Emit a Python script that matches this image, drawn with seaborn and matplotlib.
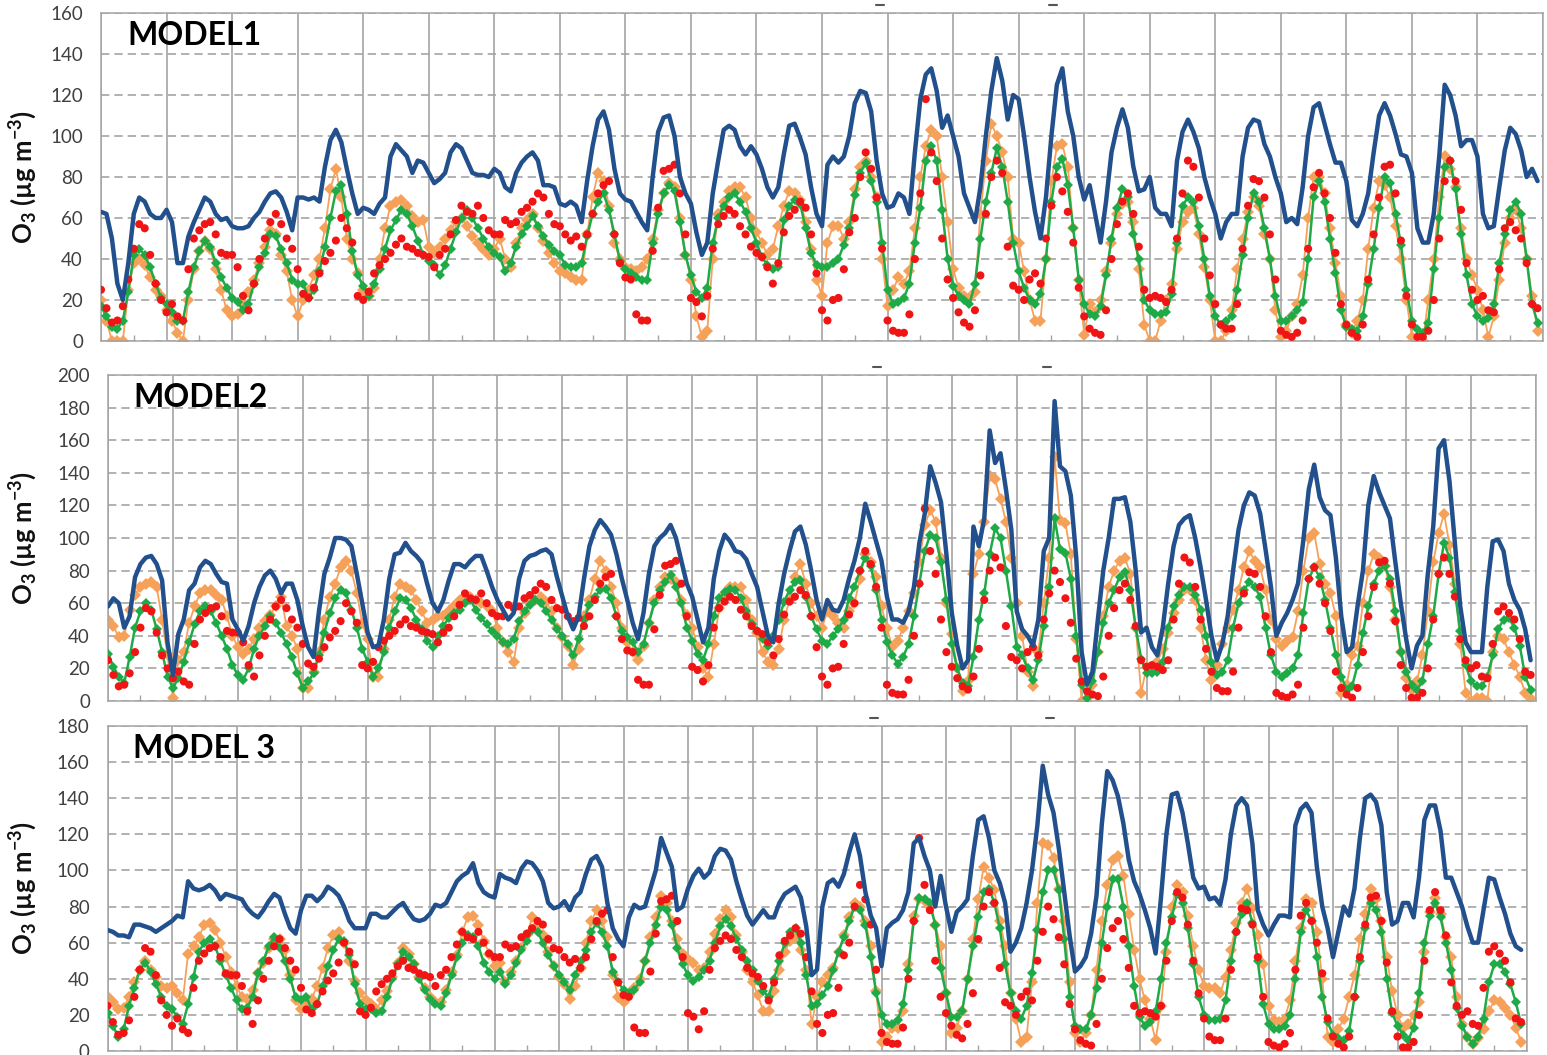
import numpy as np
import matplotlib
matplotlib.use('Agg')
import matplotlib.pyplot as plt
import seaborn as sns
from matplotlib.lines import Line2D

# O3 (ug m-3), values every 2 hours over 22 days (12 values per day)
obs_o3 = [
    25, 16, 9, 10, 17, 30, 45, 57, 55, 42, 28, 20,   14, 18, 12, 10, 35, 50, 54, 57, 58, 52, 43, 42,
    42, 36, 22, 15, 28, 40, 50, 58, 62, 57, 50, 45,   35, 23, 21, 26, 33, 39, 43, 49, 60, 55, 48, 22,
    20, 24, 33, 37, 40, 43, 47, 50, 46, 45, 43, 42,   41, 36, 42, 45, 52, 59, 66, 63, 62, 66, 60, 54,
    52, 52, 59, 57, 58, 63, 65, 68, 72, 70, 62, 57,   56, 52, 49, 51, 46, 52, 62, 72, 76, 78, 52, 38,
    31, 30, 13, 10, 10, 44, 65, 83, 84, 86, 72, 52,   21, 19, 12, 22, 45, 57, 61, 64, 62, 56, 52, 46,
    43, 41, 36, 28, 38, 53, 61, 64, 68, 65, 52, 33,   15, 10, 20, 21, 35, 53, 60, 80, 92, 84, 70, 45,
    10, 5, 4, 4, 13, 40, 72, 118, 92, 78, 50, 30,     21, 14, 9, 7, 15, 32, 62, 80, 88, 82, 46, 27,
    25, 20, 30, 33, 28, 50, 66, 80, 73, 63, 48, 26,   12, 6, 4, 3, 15, 40, 57, 68, 72, 62, 46, 25,
    21, 22, 21, 19, 25, 50, 72, 88, 85, 70, 50, 32,   18, 8, 6, 6, 18, 45, 66, 79, 78, 70, 52, 30,
    5, 3, 2, 4, 10, 45, 75, 82, 72, 60, 43, 18,       8, 4, 2, 8, 30, 52, 70, 85, 86, 72, 49, 22,
    8, 2, 2, 5, 20, 50, 78, 88, 78, 64, 38, 25,       20, 22, 15, 14, 35, 55, 58, 54, 50, 38, 18, 16,
]

m1_blue = [
    63, 62, 50, 28, 20, 38, 62, 70, 68, 62, 60, 60,   64, 58, 38, 38, 51, 58, 64, 70, 68, 62, 59, 60,
    56, 55, 55, 56, 60, 63, 68, 72, 73, 70, 63, 54,   70, 70, 69, 70, 68, 85, 98, 103, 97, 84, 72, 62,
    65, 64, 62, 67, 70, 90, 96, 93, 90, 82, 88, 87,   82, 77, 79, 82, 92, 96, 94, 88, 82, 81, 81, 80,
    84, 82, 75, 73, 82, 87, 90, 92, 88, 76, 76, 75,   67, 66, 68, 66, 58, 78, 95, 108, 112, 103, 84, 72,
    69, 68, 63, 58, 54, 80, 102, 109, 110, 100, 80, 72,   67, 53, 42, 48, 72, 88, 103, 105, 103, 95, 91, 95,
    91, 84, 75, 70, 75, 91, 105, 106, 99, 91, 75, 62,   56, 86, 90, 87, 90, 100, 116, 122, 121, 112, 88, 72,
    65, 66, 72, 70, 62, 92, 118, 130, 133, 122, 104, 110,   100, 90, 72, 65, 58, 75, 100, 122, 138, 127, 108, 120,
    118, 100, 80, 63, 50, 70, 100, 125, 133, 112, 100, 80,   69, 76, 62, 48, 68, 92, 104, 113, 104, 85, 73, 74,
    80, 65, 62, 62, 56, 88, 102, 108, 102, 94, 80, 70,   62, 50, 58, 62, 62, 90, 104, 108, 107, 96, 90, 80,
    72, 58, 60, 57, 75, 100, 114, 116, 106, 96, 87, 87,   78, 59, 56, 62, 72, 92, 110, 116, 110, 101, 91, 90,
    82, 55, 48, 48, 62, 90, 125, 120, 110, 95, 98, 98,   90, 62, 55, 56, 75, 93, 104, 101, 93, 80, 84, 78,
]
m1_orange = [
    20, 10, 0, 0, 0, 25, 38, 40, 37, 31, 25, 22,   15, 10, 4, 0, 20, 35, 44, 49, 45, 35, 25, 15,
    12, 13, 18, 24, 30, 38, 46, 54, 52, 42, 34, 20,   12, 20, 25, 32, 40, 55, 74, 84, 70, 50, 40, 33,
    25, 22, 26, 40, 55, 66, 68, 69, 66, 61, 58, 59,   46, 43, 46, 50, 54, 58, 60, 56, 51, 48, 45, 42,
    45, 50, 40, 36, 48, 55, 59, 62, 55, 49, 43, 38,   34, 33, 31, 30, 30, 52, 70, 82, 78, 66, 48, 40,
    36, 35, 34, 36, 40, 50, 64, 72, 77, 75, 60, 42,   30, 12, 2, 5, 40, 62, 68, 73, 75, 75, 70, 60,
    53, 48, 42, 45, 56, 66, 73, 72, 69, 58, 45, 30,   22, 48, 56, 56, 50, 58, 74, 85, 88, 80, 70, 40,
    17, 25, 31, 28, 34, 55, 80, 95, 103, 100, 80, 58,   35, 26, 22, 21, 24, 62, 88, 106, 100, 92, 80, 50,
    48, 34, 20, 10, 10, 40, 78, 95, 96, 85, 55, 30,   3, 18, 14, 20, 34, 48, 62, 67, 68, 58, 35, 8,
    0, 0, 10, 20, 28, 45, 58, 63, 65, 52, 36, 20,   0, 0, 5, 15, 35, 50, 63, 70, 66, 52, 40, 15,
    2, 5, 12, 18, 32, 60, 80, 80, 72, 55, 38, 22,   8, 4, 10, 20, 45, 65, 78, 76, 70, 56, 40, 20,
    2, 0, 0, 20, 40, 70, 90, 84, 75, 55, 40, 32,   25, 15, 2, 12, 30, 48, 60, 64, 55, 40, 22, 5,
]
m1_green = [
    17, 12, 7, 6, 10, 24, 42, 45, 42, 36, 28, 21,   18, 14, 10, 10, 24, 36, 44, 49, 46, 38, 31, 26,
    21, 19, 15, 18, 28, 36, 43, 52, 51, 45, 38, 30,   28, 28, 21, 25, 34, 46, 60, 73, 76, 62, 44, 32,
    27, 22, 28, 35, 45, 54, 59, 64, 62, 56, 49, 42,   39, 37, 32, 37, 45, 53, 60, 64, 60, 55, 50, 46,
    43, 41, 34, 38, 46, 52, 56, 61, 56, 51, 47, 44,   42, 37, 36, 36, 38, 51, 62, 68, 72, 64, 52, 39,
    35, 33, 31, 30, 30, 48, 62, 72, 76, 73, 58, 42,   32, 24, 21, 26, 48, 60, 66, 70, 72, 68, 63, 55,
    48, 41, 37, 35, 36, 59, 66, 69, 67, 55, 43, 37,   36, 36, 38, 40, 47, 55, 71, 82, 87, 78, 68, 48,
    25, 18, 19, 21, 28, 48, 65, 88, 95, 88, 64, 40,   27, 22, 20, 18, 28, 50, 68, 82, 94, 85, 68, 48,
    34, 26, 20, 18, 23, 40, 68, 85, 89, 76, 55, 30,   18, 13, 12, 17, 32, 50, 65, 74, 70, 52, 40, 20,
    15, 13, 13, 14, 23, 48, 66, 70, 68, 56, 40, 22,   12, 8, 10, 12, 25, 42, 60, 72, 68, 55, 40, 22,
    10, 10, 12, 15, 19, 40, 70, 78, 68, 50, 33, 15,   7, 6, 5, 12, 28, 45, 65, 80, 77, 62, 47, 25,
    10, 6, 4, 9, 35, 60, 85, 88, 74, 52, 32, 18,   12, 10, 11, 18, 38, 52, 64, 68, 62, 40, 18, 9,
]

m2_blue = [
    58, 63, 60, 45, 52, 76, 84, 88, 89, 84, 74, 36,   16, 41, 50, 68, 72, 82, 86, 84, 78, 73, 72, 50,
    44, 37, 46, 60, 70, 77, 80, 75, 66, 72, 72, 62,   46, 33, 27, 55, 78, 88, 100, 100, 99, 95, 78, 60,
    42, 33, 34, 50, 75, 90, 91, 97, 92, 89, 85, 72,   60, 55, 62, 74, 84, 84, 82, 86, 89, 89, 80, 70,
    62, 56, 50, 54, 75, 86, 89, 90, 92, 93, 90, 76,   64, 52, 44, 52, 75, 95, 105, 111, 107, 102, 90, 75,
    62, 48, 38, 54, 78, 95, 100, 103, 108, 100, 86, 72,   64, 50, 36, 45, 75, 92, 102, 98, 92, 91, 87, 78,
    70, 55, 40, 36, 60, 78, 92, 104, 107, 96, 80, 62,   50, 62, 56, 55, 62, 75, 86, 100, 121, 110, 98, 86,
    64, 50, 50, 48, 55, 70, 97, 115, 144, 134, 122, 90,   54, 34, 20, 25, 107, 95, 112, 166, 146, 152, 130, 105,
    55, 44, 40, 34, 50, 92, 100, 184, 144, 141, 126, 88,   30, 10, 18, 50, 80, 100, 124, 124, 125, 110, 80, 42,
    45, 33, 28, 45, 72, 95, 108, 112, 114, 100, 82, 62,   40, 25, 35, 52, 80, 105, 120, 128, 126, 115, 93, 70,
    40, 48, 54, 62, 72, 99, 130, 145, 125, 117, 114, 88,   52, 30, 33, 58, 80, 120, 138, 128, 120, 112, 85, 60,
    38, 20, 34, 40, 78, 107, 155, 160, 135, 97, 58, 36,   30, 30, 30, 70, 98, 99, 92, 72, 62, 56, 44, 25,
]
m2_orange = [
    50, 46, 39, 40, 56, 65, 70, 72, 73, 70, 50, 28,   2, 25, 30, 48, 58, 66, 68, 68, 65, 62, 52, 40,
    33, 29, 32, 38, 45, 49, 53, 58, 64, 46, 40, 32,   8, 8, 18, 30, 50, 64, 72, 82, 86, 80, 66, 48,
    38, 15, 15, 32, 50, 64, 72, 70, 68, 62, 55, 48,   50, 52, 52, 55, 58, 62, 63, 64, 62, 60, 58, 55,
    45, 36, 30, 24, 45, 54, 61, 62, 64, 61, 55, 45,   39, 34, 22, 32, 52, 62, 75, 86, 80, 70, 60, 45,
    36, 30, 25, 34, 48, 62, 70, 76, 75, 73, 62, 53,   45, 33, 20, 15, 35, 57, 66, 70, 70, 70, 62, 50,
    42, 30, 24, 22, 32, 50, 62, 76, 84, 72, 60, 52,   45, 55, 52, 48, 45, 55, 60, 75, 90, 85, 76, 58,
    45, 33, 37, 45, 55, 66, 85, 108, 117, 110, 88, 60,   41, 20, 6, 12, 78, 90, 110, 138, 136, 124, 110, 88,
    60, 40, 18, 9, 30, 60, 88, 150, 111, 109, 90, 38,   0, 0, 10, 30, 52, 70, 80, 86, 88, 78, 45, 5,
    21, 19, 24, 32, 42, 54, 62, 68, 68, 62, 45, 25,   13, 22, 35, 45, 56, 68, 82, 92, 86, 82, 68, 50,
    38, 34, 37, 39, 55, 80, 100, 103, 84, 72, 66, 52,   5, 10, 28, 34, 60, 80, 90, 88, 83, 70, 50, 30,
    14, 7, 12, 28, 55, 85, 103, 115, 96, 72, 35, 5,   0, 2, 2, 0, 30, 40, 38, 30, 22, 15, 5, 1,
]
m2_green = [
    29, 21, 15, 11, 27, 45, 55, 60, 56, 44, 30, 15,   8, 14, 24, 36, 47, 55, 58, 55, 48, 40, 32, 22,
    16, 13, 20, 32, 40, 46, 52, 48, 42, 35, 27, 17,   8, 12, 17, 28, 42, 54, 63, 68, 66, 56, 45, 32,
    24, 15, 20, 30, 45, 55, 63, 62, 57, 50, 44, 37,   33, 40, 46, 51, 54, 56, 60, 62, 56, 51, 47, 43,
    40, 36, 35, 38, 49, 55, 59, 62, 60, 55, 50, 44,   40, 35, 28, 38, 50, 59, 64, 68, 69, 63, 52, 43,
    39, 36, 30, 35, 48, 60, 68, 73, 77, 70, 60, 45,   37, 29, 25, 35, 52, 63, 67, 69, 68, 63, 55, 47,
    43, 38, 34, 40, 50, 61, 68, 73, 74, 64, 52, 44,   37, 35, 40, 44, 50, 63, 70, 80, 88, 83, 68, 50,
    36, 28, 23, 27, 35, 52, 72, 92, 102, 100, 85, 62,   35, 20, 11, 9, 27, 50, 66, 90, 106, 100, 80, 58,
    33, 28, 20, 13, 25, 46, 70, 112, 93, 91, 75, 40,   10, 2, 12, 30, 48, 60, 68, 76, 79, 68, 45, 26,
    17, 17, 18, 24, 45, 58, 65, 70, 70, 65, 56, 40,   24, 16, 18, 25, 45, 60, 68, 73, 70, 64, 45, 28,
    18, 15, 17, 20, 28, 54, 75, 82, 76, 62, 45, 28,   15, 7, 9, 22, 42, 58, 72, 80, 83, 75, 55, 30,
    18, 10, 7, 12, 35, 52, 78, 97, 88, 67, 43, 22,   12, 9, 9, 15, 28, 44, 50, 51, 45, 34, 15, 7,
]

m3_blue = [
    67, 66, 64, 64, 63, 70, 70, 69, 68, 66, 68, 70,   72, 75, 74, 94, 90, 89, 90, 92, 89, 84, 87, 86,
    85, 84, 79, 76, 74, 78, 83, 87, 85, 76, 68, 65,   78, 86, 86, 83, 86, 91, 89, 86, 80, 72, 68, 68,
    68, 76, 76, 74, 74, 77, 80, 82, 77, 73, 72, 73,   76, 81, 80, 82, 88, 94, 97, 99, 104, 93, 88, 86,
    85, 98, 96, 95, 93, 101, 105, 104, 100, 94, 82, 79,   80, 83, 78, 85, 88, 98, 106, 108, 102, 82, 68, 62,
    58, 74, 81, 79, 80, 90, 100, 118, 110, 102, 78, 80,   90, 97, 101, 96, 99, 108, 112, 111, 106, 94, 84, 75,
    70, 74, 78, 74, 74, 82, 87, 89, 91, 85, 69, 42,   45, 80, 93, 95, 91, 98, 110, 120, 108, 88, 75, 68,
    47, 68, 71, 73, 78, 88, 115, 118, 108, 100, 80, 97,   80, 66, 77, 80, 84, 108, 128, 130, 118, 100, 93, 82,
    55, 60, 68, 82, 100, 125, 158, 142, 132, 112, 88, 64,   44, 47, 52, 65, 86, 126, 155, 150, 141, 126, 106, 94,
    87, 78, 68, 54, 85, 120, 142, 143, 132, 115, 96, 90,   91, 84, 85, 81, 95, 120, 136, 140, 136, 115, 78, 70,
    64, 70, 75, 75, 74, 125, 134, 137, 132, 102, 80, 68,   52, 66, 80, 75, 90, 118, 140, 142, 138, 125, 88, 70,
    72, 82, 82, 74, 96, 128, 136, 136, 122, 96, 96, 88,   80, 69, 60, 60, 78, 96, 95, 85, 76, 65, 58, 56,
]
m3_orange = [
    30, 27, 23, 24, 30, 38, 45, 50, 45, 41, 36, 35,   36, 32, 28, 54, 58, 63, 70, 71, 67, 60, 52, 44,
    36, 30, 29, 34, 43, 49, 57, 62, 62, 56, 42, 28,   23, 27, 29, 36, 46, 57, 64, 66, 60, 50, 39, 32,
    28, 26, 23, 28, 33, 41, 49, 57, 54, 48, 41, 35,   30, 27, 27, 34, 44, 53, 66, 74, 75, 70, 61, 54,
    47, 49, 38, 44, 50, 57, 64, 74, 70, 64, 55, 47,   41, 37, 29, 36, 46, 60, 72, 78, 72, 63, 42, 30,
    27, 31, 35, 40, 50, 63, 74, 86, 82, 72, 62, 54,   51, 49, 45, 46, 55, 65, 73, 78, 74, 64, 55, 45,
    38, 31, 22, 22, 33, 45, 55, 61, 63, 56, 45, 15,   30, 38, 42, 46, 55, 64, 74, 82, 80, 72, 58, 33,
    5, 8, 13, 13, 22, 48, 75, 84, 83, 80, 70, 58,   32, 10, 13, 22, 40, 62, 84, 102, 96, 89, 72, 58,
    32, 18, 5, 8, 38, 82, 115, 114, 107, 90, 72, 38,   10, 5, 10, 20, 45, 72, 92, 106, 108, 97, 76, 56,
    40, 28, 18, 6, 25, 55, 80, 92, 88, 75, 58, 45,   36, 35, 35, 32, 41, 56, 71, 82, 90, 79, 64, 48,
    25, 17, 16, 18, 28, 50, 68, 84, 82, 66, 40, 8,   5, 12, 18, 30, 42, 62, 76, 90, 84, 72, 52, 33,
    20, 13, 15, 20, 27, 55, 77, 85, 76, 63, 52, 30,   15, 8, 4, 7, 12, 22, 28, 27, 24, 20, 13, 5,
]
m3_green = [
    21, 14, 8, 12, 25, 35, 45, 49, 44, 37, 30, 25,   23, 19, 15, 26, 41, 55, 60, 62, 58, 50, 42, 35,
    28, 23, 24, 30, 43, 50, 58, 63, 57, 50, 40, 30,   28, 30, 23, 26, 36, 47, 56, 62, 61, 53, 37, 26,
    23, 23, 21, 22, 30, 40, 48, 55, 52, 48, 40, 34,   29, 26, 25, 32, 42, 52, 60, 64, 63, 58, 49, 44,
    40, 44, 37, 42, 49, 56, 61, 67, 66, 60, 53, 47,   42, 38, 34, 42, 50, 56, 66, 71, 66, 58, 44, 38,
    34, 32, 34, 38, 50, 60, 70, 80, 78, 70, 57, 48,   42, 39, 41, 45, 50, 60, 69, 73, 69, 62, 56, 50,
    45, 39, 33, 30, 40, 50, 60, 66, 68, 60, 42, 25,   26, 31, 36, 45, 55, 63, 72, 80, 78, 70, 52, 32,
    20, 15, 15, 17, 26, 45, 72, 85, 84, 82, 70, 46,   32, 19, 19, 22, 40, 58, 74, 88, 90, 82, 68, 48,
    32, 22, 18, 25, 43, 67, 88, 100, 100, 89, 62, 30,   14, 12, 12, 20, 35, 60, 80, 95, 95, 80, 58, 36,
    19, 14, 16, 22, 40, 60, 74, 87, 82, 68, 48, 30,   20, 17, 17, 18, 28, 50, 66, 76, 82, 71, 50, 26,
    15, 12, 12, 14, 20, 40, 66, 78, 72, 52, 30, 16,   9, 7, 6, 11, 30, 50, 68, 82, 78, 66, 40, 21,
    14, 9, 6, 13, 32, 60, 75, 82, 74, 60, 45, 24,   14, 8, 4, 8, 18, 38, 48, 48, 44, 37, 27, 15,
]

hours = np.arange(0, 528, 2)

panels = [
    ('MODEL1', m1_blue, m1_orange, m1_green, 160, [101, 13, 1543, 341]),
    ('MODEL2', m2_blue, m2_orange, m2_green, 200, [108, 375, 1536, 701]),
    ('MODEL 3', m3_blue, m3_orange, m3_green, 180, [107.5, 726, 1526.5, 1051]),
]

W, H = 1547, 1055
sns.set_theme(style='white')
plt.rcParams['font.family'] = ['Lato', 'DejaVu Sans']
plt.rcParams['mathtext.fontset'] = 'custom'
plt.rcParams['mathtext.rm'] = 'Lato:bold'
plt.rcParams['mathtext.it'] = 'Lato:bold'
plt.rcParams['mathtext.bf'] = 'Lato:bold'

BLUE = '#22508D'
ORANGE = '#F6A15A'
GREEN = '#1FAA48'
RED = '#F01414'
GRID = '#A4A4A4'

fig = plt.figure(figsize=(W / 100, H / 100), dpi=100)

for name, blue, orange, green, ytop, (x0, y0, x1, y1) in panels:
    ax = fig.add_axes([x0 / W, 1 - y1 / H, (x1 - x0) / W, (y1 - y0) / H])
    ax.set_axisbelow(True)

    sns.lineplot(x=hours, y=orange, ax=ax, color=ORANGE, lw=1.3, marker='D',
                 markersize=6.5, markeredgewidth=0, zorder=2)
    sns.lineplot(x=hours, y=green, ax=ax, color=GREEN, lw=1.8, marker='D',
                 markersize=5.2, markeredgewidth=0, zorder=3)
    sns.scatterplot(x=hours, y=obs_o3, ax=ax, color=RED, s=34, linewidth=0,
                    edgecolor='none', zorder=4)
    sns.lineplot(x=hours, y=blue, ax=ax, color=BLUE, lw=3.2, zorder=5)

    ax.set_xlim(0, 528)
    ax.set_ylim(0, ytop)
    ax.set_xticks(np.arange(0, 529, 24))
    ax.set_xticks(np.arange(12, 528, 24), minor=True)
    ax.set_xticklabels([])
    ax.set_yticks(np.arange(0, ytop + 1, 20))
    ax.tick_params(axis='x', which='major', length=0)
    ax.tick_params(axis='x', which='minor', direction='in', length=4,
                   width=1, color=GRID, bottom=True)
    ax.tick_params(axis='y', length=0, pad=13, labelsize=13.5, labelcolor='#404040')

    ax.grid(axis='x', color=GRID, lw=1.2, ls='-')
    ax.grid(axis='y', color=GRID, lw=1.2, ls=(0, (5, 3)))
    for sp in ax.spines.values():
        sp.set_color(GRID)
        sp.set_linewidth(1.1)

    ax.set_xlabel('')
    ax.set_ylabel('O$_3$ (µg m$^{-3}$)', fontsize=18.5, fontweight='bold', color='#111111')
    ax.yaxis.set_label_coords(-(x0 - 39) / (x1 - x0), 0.5)

    ax.text(0.018, 0.93, name, transform=ax.transAxes, fontsize=23,
            fontweight='bold', color='black', ha='left', va='center')

# small dash marks above the panels
for px, py in [(880, 5), (1053, 5), (877, 367), (1047, 367), (874, 718), (1050, 718)]:
    fig.add_artist(Line2D([(px - 4) / W, (px + 4) / W], [1 - py / H, 1 - py / H],
                          color='#555555', lw=1.5, transform=fig.transFigure))

fig.savefig('out.png', dpi=100)
